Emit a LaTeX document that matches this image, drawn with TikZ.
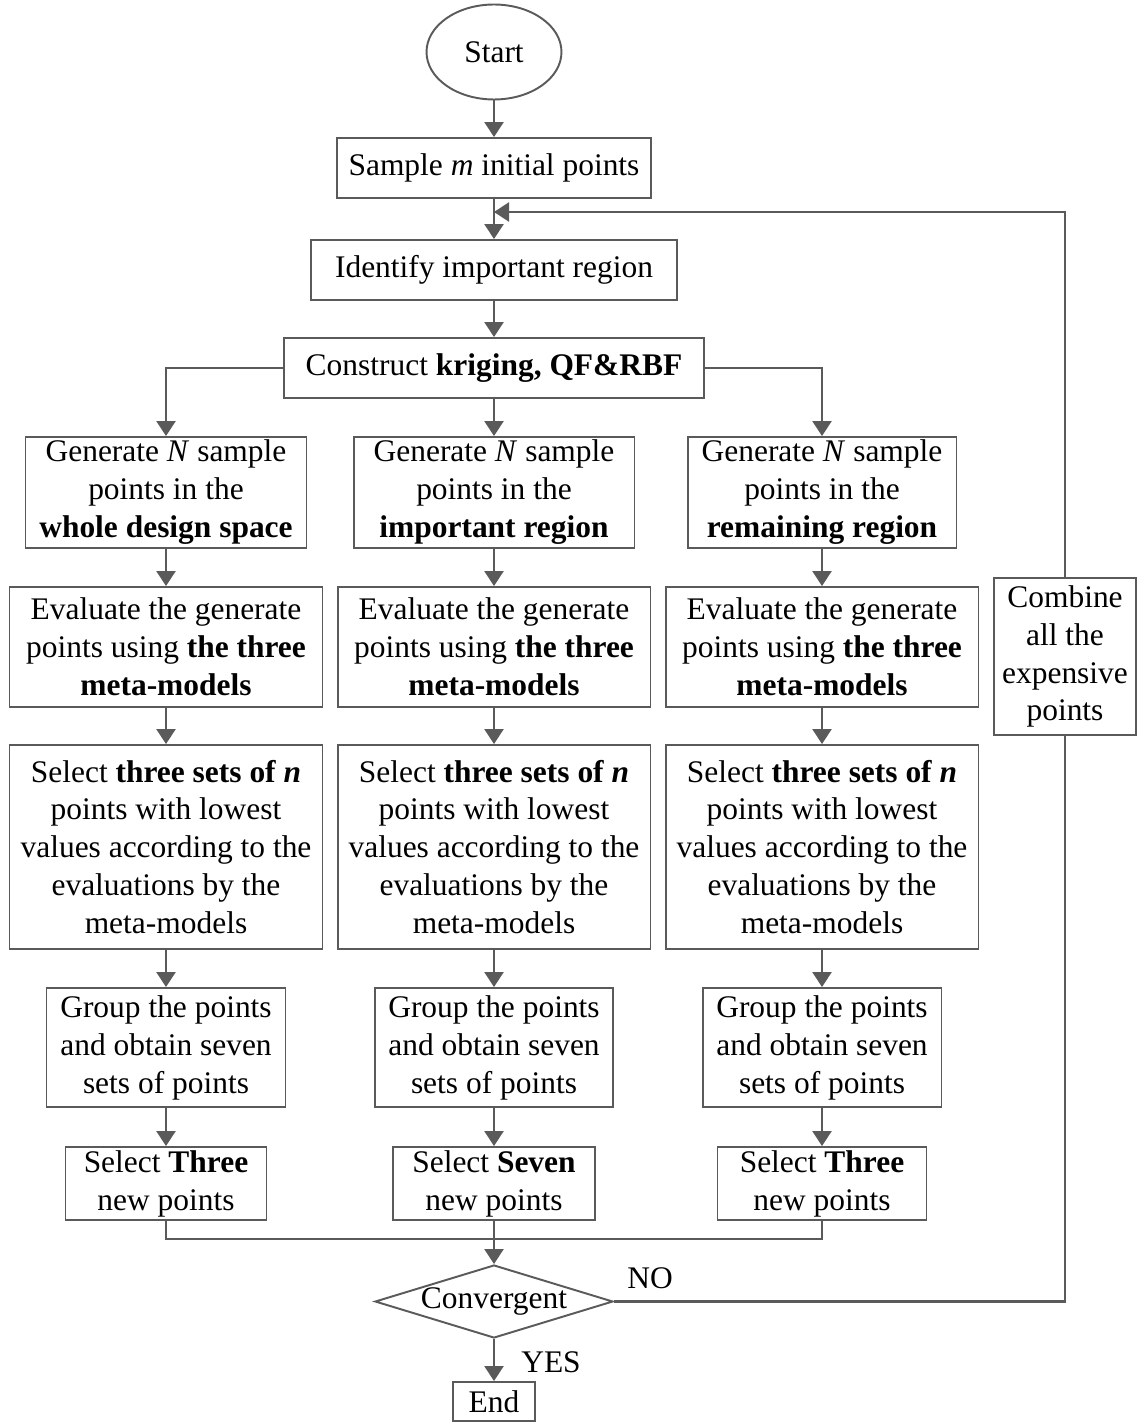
\documentclass[tikz,border=0pt]{standalone}
\usepackage{fontspec}
\setmainfont{Liberation Serif}
\usetikzlibrary{shapes.geometric,arrows.meta}
\definecolor{ln}{HTML}{5A5A5A}
\begin{document}
\begin{tikzpicture}[x=0.02cm,y=-0.02cm,
  every node/.style={font=\fontsize{17.9}{21.6}\selectfont, text=black},
  box/.style={draw=ln, line width=1.1pt, rectangle, align=center, inner sep=0pt},
  conn/.style={draw=ln, line width=1.3pt},
  arr/.style={conn, -{Triangle[length=0.3cm,width=0.38cm]}}]
\useasboundingbox (0,0) rectangle (1137,1422);

\node[draw=ln, line width=1.1pt, ellipse, minimum width=2.70cm, minimum height=1.90cm, inner sep=0pt] (start) at (494,52) {Start};
\node[box, minimum width=6.28cm, minimum height=1.20cm] (sample) at (494,168) {Sample \textit{m} initial points};
\node[box, minimum width=7.32cm, minimum height=1.20cm] (ident) at (494,270) {Identify important region};
\node[box, minimum width=8.40cm, minimum height=1.20cm] (cons) at (494,368) {Construct \textbf{kriging, QF\&RBF}};

% Generate
\node[box, minimum width=5.62cm, minimum height=2.22cm] (g1) at (166,492.5) {Generate \textit{N} sample\\points in the\\\textbf{whole design space}};
\node[box, minimum width=5.62cm, minimum height=2.22cm] (g2) at (494,492.5) {Generate \textit{N} sample\\points in the\\\textbf{important region}};
\node[box, minimum width=5.38cm, minimum height=2.22cm] (g3) at (822,492.5) {Generate \textit{N} sample\\points in the\\\textbf{remaining region}};

% Evaluate
\node[box, minimum width=6.26cm, minimum height=2.40cm] (e1) at (166,647) {Evaluate the generate\\points using \textbf{the three}\\\textbf{meta-models}};
\node[box, minimum width=6.26cm, minimum height=2.40cm] (e2) at (494,647) {Evaluate the generate\\points using \textbf{the three}\\\textbf{meta-models}};
\node[box, minimum width=6.26cm, minimum height=2.40cm] (e3) at (822,647) {Evaluate the generate\\points using \textbf{the three}\\\textbf{meta-models}};

% Select sets
\node[box, minimum width=6.26cm, minimum height=4.08cm] (s1) at (166,847) {Select \textbf{three sets of \textit{n}}\\points with lowest\\values according to the\\evaluations by the\\meta-models};
\node[box, minimum width=6.26cm, minimum height=4.08cm] (s2) at (494,847) {Select \textbf{three sets of \textit{n}}\\points with lowest\\values according to the\\evaluations by the\\meta-models};
\node[box, minimum width=6.26cm, minimum height=4.08cm] (s3) at (822,847) {Select \textbf{three sets of \textit{n}}\\points with lowest\\values according to the\\evaluations by the\\meta-models};

% Group
\node[box, minimum width=4.78cm, minimum height=2.38cm] (r1) at (166,1047.5) {Group the points\\and obtain seven\\sets of points};
\node[box, minimum width=4.76cm, minimum height=2.38cm] (r2) at (494,1047.5) {Group the points\\and obtain seven\\sets of points};
\node[box, minimum width=4.78cm, minimum height=2.38cm] (r3) at (822,1047.5) {Group the points\\and obtain seven\\sets of points};

% Select new points
\node[box, minimum width=4.02cm, minimum height=1.46cm] (n1) at (166,1183.5) {Select \textbf{Three}\\new points};
\node[box, minimum width=4.04cm, minimum height=1.46cm] (n2) at (494,1183.5) {Select \textbf{Seven}\\new points};
\node[box, minimum width=4.18cm, minimum height=1.46cm] (n3) at (822,1183.5) {Select \textbf{Three}\\new points};

% Decision, end, combine
\node[draw=ln, line width=1.1pt, diamond, aspect=3.26, minimum width=4.76cm, minimum height=1.46cm, inner sep=0pt] (conv) at (494,1301.5) {\makebox[0pt]{Convergent}};
\node[box, minimum width=1.64cm, minimum height=0.78cm] (end) at (494,1401.5) {End};
\node[box, minimum width=2.84cm, minimum height=3.14cm] (comb) at (1065,656.5) {Combine\\all the\\expensive\\points};

\node (no) at (650,1278) {NO};
\node (yes) at (551,1362) {YES};

\coordinate (fb) at (494,212);
\coordinate (mrg) at (494,1239);

% Connectors
\draw[arr] (start) -- (sample);
\draw[arr] (sample) -- (ident);
\draw[arr] (ident) -- (cons);
\draw[arr] (cons.west) -| (g1.north);
\draw[arr] (cons.south) -- (g2.north);
\draw[arr] (cons.east) -| (g3.north);
\foreach \c in {1,2,3}{
  \draw[arr] (g\c.south) -- (e\c.north);
  \draw[arr] (e\c.south) -- (s\c.north);
  \draw[arr] (s\c.south) -- (r\c.north);
  \draw[arr] (r\c.south) -- (n\c.north);
}
\draw[conn] (n1.south) |- (mrg) -| (n3.south);
\draw[arr] (n2.south) -- (conv.north);
\draw[arr] (conv.south) -- (end.north);
\draw[conn] (conv.east) -| (comb.south);
\draw[arr] (comb.north) |- (fb);
\end{tikzpicture}
\end{document}
